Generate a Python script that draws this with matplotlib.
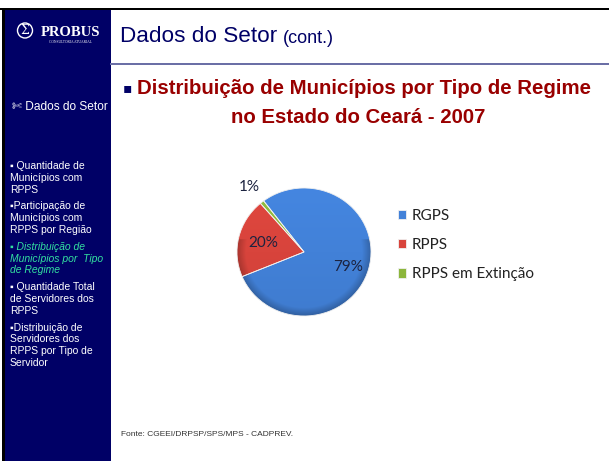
import matplotlib
matplotlib.use('Agg')
import matplotlib.pyplot as plt
from matplotlib.patches import Rectangle, Circle
from matplotlib.colors import to_rgb
import numpy as np

#--------------------------------------------------------60
# Data
categories = ['RGPS', 'RPPS', 'RPPS em Extinção']
shares = [79, 20, 1]
pct_labels = ['79%', '20%', '1%']
colors = ['#4281d8', '#d8443c', '#8cb63c']

menu_items = [
    ['▪ Quantidade de', 'Municípios com', 'RPPS'],
    ['▪Participação de', 'Municípios com', 'RPPS por Região'],
    ['▪ Distribuição de', 'Municípios por  Tipo', 'de Regime'],
    ['▪ Quantidade Total', 'de Servidores dos', 'RPPS'],
    ['▪Distribuição de', 'Servidores dos', 'RPPS por Tipo de', 'Servidor'],
]
menu_active = 2

W, H = 609, 461
NAVY = '#000066'

fig = plt.figure(figsize=(W / 100, H / 100), dpi=100)
fig.patch.set_facecolor('white')

# Background / slide frame in pixel coordinates
bg = fig.add_axes([0, 0, 1, 1])
bg.set_xlim(0, W)
bg.set_ylim(H, 0)
bg.axis('off')

bg.add_patch(Rectangle((0, 8), W, 2.5, color='black', lw=0))
bg.add_patch(Rectangle((1.5, 8), 3, H - 8, color='black', lw=0))
bg.add_patch(Rectangle((4.5, 10.5), 106.5, H - 10.5, color=NAVY, lw=0))
bg.add_patch(Rectangle((110, 63), W - 110, 2, color='#6b6fa6', lw=0))

# Logo
bg.add_patch(Circle((25, 30.5), 7.5, fill=False, ec='white', lw=1))
bg.text(25, 31, 'Σ', color='white', fontsize=9, ha='center', va='center',
        family='DejaVu Serif')
bg.text(41, 32, 'PROBUS', color='white', fontsize=10.5, fontweight='bold',
        family='Liberation Serif', ha='left', va='center')
bg.text(70, 42, 'CONSULTORIA ATUARIAL', color='white', fontsize=2.6,
        family='Liberation Serif', ha='center', va='center')

# Slide title
bg.text(120, 36, 'Dados do Setor', color=NAVY, fontsize=16.2,
        family='Liberation Sans', ha='left', va='center')
bg.text(283, 38.5, '(cont.)', color=NAVY, fontsize=13,
        family='Liberation Sans', ha='left', va='center')

# Sidebar
bg.text(12, 107, '✄ Dados do Setor', color='white', fontsize=8.6,
        family=['Liberation Sans', 'DejaVu Sans'], ha='left', va='center')

y = 166
for i, item in enumerate(menu_items):
    for line in item:
        if i == menu_active:
            bg.text(10, y, line, color='#33e0a0', fontsize=7.5, style='italic',
                    family=['Liberation Sans', 'DejaVu Sans'],
                    ha='left', va='center')
        else:
            bg.text(10, y, line, color='white', fontsize=7.5,
                    family=['Liberation Sans', 'DejaVu Sans'],
                    ha='left', va='center')
        y += 11.8
    y += 5

# Heading
bg.text(123, 88, '▪', color=NAVY, fontsize=10, family='DejaVu Sans',
        ha='left', va='center')
bg.text(137, 88, 'Distribuição de Municípios por Tipo de Regime', color='#990000',
        fontsize=14.7, fontweight='bold', family='Liberation Sans',
        ha='left', va='center')
bg.text(358, 117, 'no Estado do Ceará - 2007', color='#990000',
        fontsize=14.7, fontweight='bold', family='Liberation Sans',
        ha='center', va='center')

# Footer
bg.text(121, 434, 'Fonte: CGEEI/DRPSP/SPS/MPS - CADPREV.', color='#333333',
        fontsize=6.0, family='Liberation Sans', ha='left', va='center')

#-------------------------------------
# Pie chart
cx, cy, rx, ry = 304, 252, 67, 64
pax = fig.add_axes([(cx - rx) / W, 1 - (cy + ry) / H, 2 * rx / W, 2 * ry / H])
wedges, _ = pax.pie(shares, colors=colors, startangle=127, counterclock=False,
                    radius=1, wedgeprops=dict(ec='#f0f0f0', lw=0.6))
pax.set_xlim(-1, 1)
pax.set_ylim(-1, 1)
pax.set_aspect('auto')
pax.axis('off')

# soft shading: slightly lighter toward the top, darker rim toward the bottom
gx, gy = np.meshgrid(np.linspace(-1, 1, 200), np.linspace(-1, 1, 200))
rr = np.sqrt(gx ** 2 + gy ** 2)
shade = 1.0 + 0.04 * gy - 0.22 * np.clip(rr - 0.87, 0, None) / 0.13 * (gy < 0.2)
shade = np.clip(shade, 0.75, 1.1)
for w, c in zip(wedges, colors):
    base = np.array(to_rgb(c))
    img = np.clip(shade[..., None] * base[None, None, :], 0, 1)
    im = pax.imshow(img, extent=(-1, 1, -1, 1), origin='lower', zorder=1.5,
                    aspect='auto')
    im.set_clip_path(w)
    w.set_facecolor('none')
    w.set_zorder(2)

pax.set_xlim(-1, 1)
pax.set_ylim(-1, 1)

dists = [0.7, 0.63, 1.3]
offs = [-5, 0, 0]
for w, lab, d, o in zip(wedges, pct_labels, dists, offs):
    ang = np.deg2rad((w.theta1 + w.theta2) / 2 + o)
    pax.text(d * np.cos(ang), d * np.sin(ang), lab, ha='center', va='center',
             fontsize=11, family='Lato', color='#1c2340', clip_on=False,
             zorder=3)

leg = fig.legend(wedges, categories, loc='upper left',
                 bbox_to_anchor=(384 / W, 1 - 195 / H), frameon=False,
                 prop=dict(family='Lato', size=11), handlelength=0.55,
                 handleheight=0.55, handletextpad=0.35, labelspacing=1.0)
for t in leg.get_texts():
    t.set_color('#222222')
for h, c in zip(leg.legend_handles, colors):
    h.set_facecolor(c)
    h.set_edgecolor('#f0f0f0')

fig.savefig('out.png', dpi=100)
